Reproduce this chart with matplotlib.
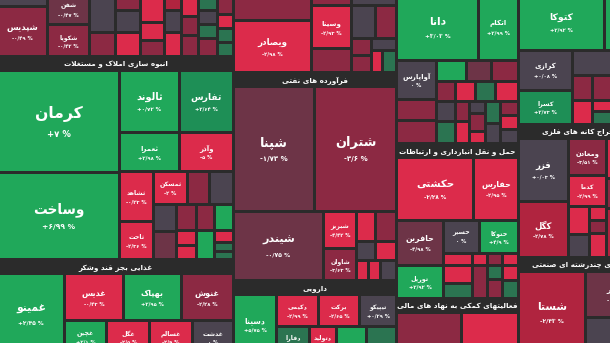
import matplotlib
matplotlib.use("Agg")
from matplotlib import pyplot as plt
from matplotlib.patches import Rectangle

# ---------------- data: one list set per industry group ----------------
# size = market value (relative), change = daily % change, tone = colour class
chem_names = ["", "شپدیس", "شفن", "شکویا"] + [""] * 22
chem_size = [619, 2475, 1302, 1323, 1001, 624, 404, 539, 588, 684, 432, 384, 272,
             374, 416, 374, 323, 365, 313, 266, 266, 342, 330, 231, 231, 239]
chem_change = [None, -0.49, -0.47, -0.42] + [None] * 22
chem_tone = "NDMDNDDNBBBDRNBBDDdNdDDBdd"

build_names = ["کرمان", "وساخت", "ثالوند", "تفارس", "ثعمرا", "وآذر", "ثشاهد", "ثاخت", "ثمسکن"] + [""] * 13
build_size = [12393, 10631, 3720, 3348, 2340, 2106, 1700, 1309, 1122, 726, 792,
              632, 644, 520, 300, 290, 468, 531, 494, 228, 171, 161]
build_change = [7, 6.99, 0.72, 2.64, 2.98, -5, -0.23, -2.36, -2] + [None] * 13
build_tone = "GGGgGBBBBDNNMDBBDGGBdd"

food_names = ["غمینو", "غدیس", "بهپاک", "غنوش", "غچین", "غگل", "غسالم", "غدشت"]
food_size = [5320, 2743, 2674, 2441, 1407, 1457, 1424, 1374]
food_change = [2.45, -0.43, 2.95, -2.28, 2.1, -2.5, -2.9, 0]
food_tone = "GBGDGBBN"

invest_names = ["", "ویصادر", "", "وسینا"] + [""] * 9
invest_size = [2067, 4056, 460, 1720, 960, 517, 792, 693, 340, 340, 300, 242, 308]
invest_change = [None, -2.98, None, -2.93] + [None] * 9
invest_tone = "DBDBDNNDDDNBd"

oil_names = ["شپنا", "شتران", "شیندر", "شبریز", "شاوان"] + [""] * 7
oil_size = [10125, 10250, 6210, 1221, 1056, 570, 630, 361, 399, 240, 240, 320]
oil_change = [-1.73, -3.6, -0.75, -4.42, -3.63] + [None] * 7
oil_tone = "MDMBDBDNBBBN"

pharma_names = ["دسینا", "دکیمی", "برکت", "تیپیکو", "دفارا", "دتولید", "", ""]
pharma_size = [2558, 1344, 1312, 1184, 907, 742, 825, 825]
pharma_change = [5.75, -2.99, -2.65, 0.29, 1.2, -2.1, None, None]
pharma_tone = "GBBNdBGd"

insure_names = ["دانا", "اتکام", "آواپارس"] + [""] * 21
insure_size = [5453, 2660, 1560, 840, 920, 630, 525, 567, 380, 400, 400, 460,
               380, 418, 280, 308, 192, 288, 192, 330, 300, 252, 252, 252]
insure_change = [3.03, 2.99, 0] + [None] * 21
insure_tone = "GGNDDGMDDBdBNdDBNDBdNDBN"

trans_names = ["حکشتی", "حفارس", "حافرین", "تورپل", "حسیر", "حتوکا"] + [""] * 11
trans_size = [4812, 2812, 2115, 1574, 1206, 1306, 333, 172, 172, 184, 522, 449,
              502, 210, 292, 240, 296]
trans_change = [-2.28, -2.95, -4.98, 2.92, 0, 4.9] + [None] * 11
trans_tone = "BBMGNGBBDBBdDdDBd"

fin_names = ["", ""]
fin_size = [2697, 2365]
fin_change = [None, None]
fin_tone = "DB"

tile_names = ["کتوکا", "", "کرازی", "کسرا"] + [""] * 6
tile_size = [4816, 2548, 2160, 1863, 1976, 500, 480, 1438, 633, 747]
tile_change = [2.92, None, 0.08, 2.73] + [None] * 6
tile_tone = "GGNgNDBDBd"

metal_names = ["فزر", "کگل", "ومعادن", "کدما"] + [""] * 8
metal_size = [3150, 2775, 1406, 1159, 588, 483, 238, 221, 408, 1740, 1305, 2110]
metal_change = [0.03, -2.78, -3.51, -2.99] + [None] * 8
metal_tone = "NRDBBNBDBBDR"

hold_names = ["شستا", "ومدیر", ""]
hold_size = [5561, 2967, 2386]
hold_change = [-2.43, -1.08, None]
hold_tone = "RMN"

# ---------------- styling ----------------
BG = "#2b2b2b"
PALETTE = {"G": "#20a85a", "g": "#1e8f56", "d": "#2b7451", "N": "#4b4450",
           "M": "#6d3447", "D": "#8c2943", "R": "#b0243f", "B": "#dc2b4b"}
HEAD = 14
PAD = 1.5
FONT = "DejaVu Sans"

# ---------------- split trees (how each group is sliced) ----------------
def col(*ids):
    return ("v", list(ids))

def row(*ids):
    return ("h", list(ids))

chem_tree = row(col(0, 1), col(2, 3), col(4, 5), col(6, 7, 8), col(9, 10, 11),
                col(12, 13, 14), col(15, 16, 17), col(18, 19, 20, 21), col(22, 23, 24, 25))
build_tree = row(col(0, 1),
                 col(row(2, 3), row(4, 5),
                     row(col(6, 7),
                         col(row(8, 9, 10),
                             row(col(11, 12), col(13, 14, 15), col(16, 17), col(18, 19, 20, 21))))))
food_tree = row(0, col(row(1, 2, 3), row(4, 5, 6, 7)))
invest_tree = row(col(0, 1), col(2, 3, 4),
                  col(5, row(6, 7), row(col(8, 9), col(10, row(11, 12)))))
oil_tree = col(row(0, 1), row(2, col(3, 4), col(row(5, 6), row(7, 8), row(9, 10, 11))))
pharma_tree = row(0, col(row(1, 2, 3), row(4, 5, 6, 7)))
insure_tree = col(row(0, 1),
                  row(col(2, 3, 4),
                      col(row(5, 6, 7), row(8, 9, 10, 11),
                          row(col(12, 13), col(14, 15), col(16, 17, 18), col(19, 20), col(21, 22, 23)))))
trans_tree = col(row(0, 1),
                 row(col(2, 3),
                     col(row(4, 5), row(6, 7, 8, 9), row(col(10, 11), 12, col(13, 14), col(15, 16)))))
fin_tree = row(0, 1)
tile_tree = col(row(0, 1), row(col(2, 3), col(4, row(col(5, 6), col(7, 8, 9)))))
metal_tree = row(col(0, 1), col(2, 3, row(col(4, 5), col(6, 7, 8))), col(9, 10, 11))
hold_tree = row(0, col(1, 2))

columns = [
    [(None, chem_tree, chem_names, chem_size, chem_change, chem_tone),
     ("انبوه سازی املاک و مستغلات", build_tree, build_names, build_size, build_change, build_tone),
     ("غذایی بجز قند وشکر", food_tree, food_names, food_size, food_change, food_tone)],
    [(None, invest_tree, invest_names, invest_size, invest_change, invest_tone),
     ("فرآورده های نفتی", oil_tree, oil_names, oil_size, oil_change, oil_tone),
     ("دارویی", pharma_tree, pharma_names, pharma_size, pharma_change, pharma_tone)],
    [(None, insure_tree, insure_names, insure_size, insure_change, insure_tone),
     ("حمل و نقل انبارداری و ارتباطات", trans_tree, trans_names, trans_size, trans_change, trans_tone),
     ("فعالیتهای کمکی به نهاد های مالی", fin_tree, fin_names, fin_size, fin_change, fin_tone)],
    [(None, tile_tree, tile_names, tile_size, tile_change, tile_tone),
     ("استخراج کانه های فلزی", metal_tree, metal_names, metal_size, metal_change, metal_tone),
     ("شرکتهای چندرشته ای صنعتی", hold_tree, hold_names, hold_size, hold_change, hold_tone)],
]

# ---------------- persian shaping (matplotlib has no RTL / joining) ----------------
FORMS = {
    "ا": ("\ufe8d", "\ufe8e", None, None), "آ": ("\ufe81", "\ufe82", None, None),
    "ب": ("\ufe8f", "\ufe90", "\ufe91", "\ufe92"), "پ": ("\ufb56", "\ufb57", "\ufb58", "\ufb59"),
    "ت": ("\ufe95", "\ufe96", "\ufe97", "\ufe98"), "ث": ("\ufe99", "\ufe9a", "\ufe9b", "\ufe9c"),
    "ج": ("\ufe9d", "\ufe9e", "\ufe9f", "\ufea0"), "چ": ("\ufb7a", "\ufb7b", "\ufb7c", "\ufb7d"),
    "ح": ("\ufea1", "\ufea2", "\ufea3", "\ufea4"), "خ": ("\ufea5", "\ufea6", "\ufea7", "\ufea8"),
    "د": ("\ufea9", "\ufeaa", None, None), "ذ": ("\ufeab", "\ufeac", None, None),
    "ر": ("\ufead", "\ufeae", None, None), "ز": ("\ufeaf", "\ufeb0", None, None),
    "ژ": ("\ufb8a", "\ufb8b", None, None),
    "س": ("\ufeb1", "\ufeb2", "\ufeb3", "\ufeb4"), "ش": ("\ufeb5", "\ufeb6", "\ufeb7", "\ufeb8"),
    "ص": ("\ufeb9", "\ufeba", "\ufebb", "\ufebc"), "ض": ("\ufebd", "\ufebe", "\ufebf", "\ufec0"),
    "ط": ("\ufec1", "\ufec2", "\ufec3", "\ufec4"), "ظ": ("\ufec5", "\ufec6", "\ufec7", "\ufec8"),
    "ع": ("\ufec9", "\ufeca", "\ufecb", "\ufecc"), "غ": ("\ufecd", "\ufece", "\ufecf", "\ufed0"),
    "ف": ("\ufed1", "\ufed2", "\ufed3", "\ufed4"), "ق": ("\ufed5", "\ufed6", "\ufed7", "\ufed8"),
    "ک": ("\ufb8e", "\ufb8f", "\ufb90", "\ufb91"), "گ": ("\ufb92", "\ufb93", "\ufb94", "\ufb95"),
    "ل": ("\ufedd", "\ufede", "\ufedf", "\ufee0"), "م": ("\ufee1", "\ufee2", "\ufee3", "\ufee4"),
    "ن": ("\ufee5", "\ufee6", "\ufee7", "\ufee8"), "و": ("\ufeed", "\ufeee", None, None),
    "ه": ("\ufee9", "\ufeea", "\ufeeb", "\ufeec"), "ی": ("\ufbfc", "\ufbfd", "\ufbfe", "\ufbff"),
}


def shape(text):
    out = []
    for i, ch in enumerate(text):
        f = FORMS.get(ch)
        if f is None:
            out.append(ch)
            continue
        prev = text[i - 1] if i > 0 else ""
        nxt = text[i + 1] if i + 1 < len(text) else ""
        jp = prev in FORMS and FORMS[prev][2] is not None
        jn = nxt in FORMS and f[2] is not None
        if jp and jn:
            out.append(f[3])
        elif jp:
            out.append(f[1])
        elif jn:
            out.append(f[2])
        else:
            out.append(f[0])
    s = "".join(out)
    s = s.replace("\ufedf\ufe8e", "\ufefb").replace("\ufee0\ufe8e", "\ufefc")
    return s[::-1]


DIGITS = str.maketrans("0123456789.", "۰۱۲۳۴۵۶۷۸۹/")


def pct(v):
    sign = "+" if v > 0 else "-" if v < 0 else ""
    return sign + f"{abs(v):g}".translate(DIGITS) + " %"


# ---------------- slice and dice layout ----------------
def total(node, sizes):
    if isinstance(node, int):
        return sizes[node]
    return sum(total(k, sizes) for k in node[1])


def place(node, x, y, w, h, sizes, out):
    if isinstance(node, int):
        out.append((node, x, y, w, h))
        return
    kind, kids = node
    tot = total(node, sizes)
    for k in kids:
        frac = total(k, sizes) / tot
        if kind == "h":
            place(k, x, y, w * frac, h, sizes, out)
            x += w * frac
        else:
            place(k, x, y, w, h * frac, sizes, out)
            y += h * frac


fig = plt.figure(figsize=(6.1, 3.43), dpi=100)
fig.patch.set_facecolor(BG)
ax = fig.add_axes([0, 0, 1, 1])
ax.set_facecolor(BG)
ax.set_xlim(0, 610)
ax.set_ylim(343, 0)
ax.axis("off")

# the screenshot is a crop of a larger map, so the map runs past the edges
X0, X1, Y0, Y1 = -2, 650, -6, 354

col_sums = [sum(total(s[1], s[3]) for s in c) for c in columns]
cx = X0
for c, csum in zip(columns, col_sums):
    cw = (X1 - X0) * csum / sum(col_sums)
    free = (Y1 - Y0) - HEAD * sum(1 for s in c if s[0])
    cy = Y0
    for title, tree, names, sizes, change, tone in c:
        sh = free * total(tree, sizes) / csum
        if title:
            ax.text(cx + cw / 2, cy + HEAD / 2 + 1, shape(title), color="white", fontsize=5.2,
                    fontweight="bold", family=FONT, ha="center", va="center", clip_on=True)
            cy += HEAD
        cells = []
        place(tree, cx, cy, cw, sh, sizes, cells)
        for i, x, y, w, h in cells:
            ax.add_patch(Rectangle((x + PAD, y + PAD), w - 2 * PAD, h - 2 * PAD,
                                   facecolor=PALETTE[tone[i]], edgecolor="none"))
            if not names[i] or min(w, h) < 20:
                continue
            fs = 0.85 * (0.115 * min(w, h) + 1.5)
            fs = min(fs, 0.85 * w / (0.6 * len(names[i])) / 1.39, 11.5)
            fs = max(fs, 4.5)
            px = fs * 1.39
            mx, my = x + w / 2, y + h / 2
            ax.text(mx, my - 0.5 * px, shape(names[i]), color="white", fontsize=fs,
                    fontweight="bold", family=FONT, ha="center", va="center", clip_on=True)
            if change[i] is not None:
                ax.text(mx, my + 0.8 * px, pct(change[i]), color="white",
                        fontsize=max(0.55 * fs, 3.8), fontweight="bold", family=FONT,
                        ha="center", va="center", clip_on=True)
        cy += sh
    cx += cw

fig.savefig("out.png", dpi=100, facecolor=BG)
